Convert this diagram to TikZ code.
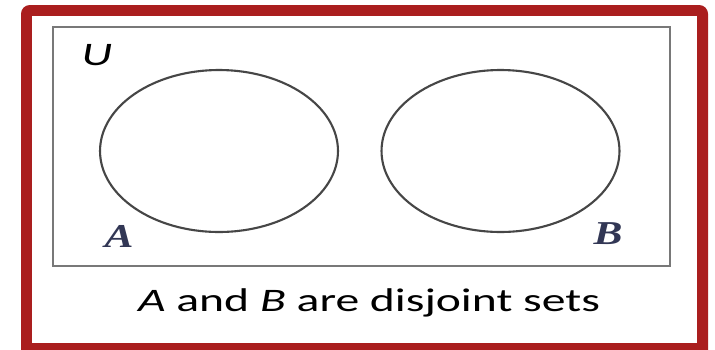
\documentclass[tikz,border=0pt]{standalone}
\usepackage{fontspec}
\usetikzlibrary{shapes.geometric}
\newfontfamily\captionfont{Carlito}
\newfontfamily\setlabelfont{Liberation Serif}
\definecolor{FrameRed}   {RGB}{170,  30,  30}
\definecolor{BoxGray}    {RGB}{120, 120, 120}
\definecolor{SetDark}    {RGB}{ 70,  70,  70}
\definecolor{LabelNavy}  {RGB}{ 50,  55,  85}
\tikzset{
  % universe rectangle
  universebox/.style={
    rectangle, draw=BoxGray, line width=1.2pt,
    minimum width=12.34cm, minimum height=4.78cm, inner sep=0pt
  },
  % set ellipse
  setshape/.style={
    ellipse, draw=SetDark, line width=1.2pt,
    minimum width=4.76cm, minimum height=3.24cm, inner sep=0pt
  },
  % set name inside the universe
  setname/.style={
    font=\setlabelfont\bfseries\itshape\fontsize{19}{22}\selectfont,
    text=LabelNavy, anchor=base, inner sep=0pt, xscale=1.3
  },
  % sans text (universe name, caption)
  sanstext/.style={
    font=\captionfont\fontsize{18.7}{22}\selectfont,
    text=black, anchor=base, inner sep=0pt, xscale=1.45
  }
}
\begin{document}
\begin{tikzpicture}[x=0.02cm, y=-0.02cm]

  % ── Page size ─────────────────────────────────────────────────────────
  \useasboundingbox (0,0) rectangle (715,349);
  \clip (0,0) rectangle (715,349);

  % ── Red frame (bottom edge runs off the page) ─────────────────────────
  \fill[FrameRed, rounded corners=5pt] (21,5) rectangle (708,370);
  \fill[white] (32,16) rectangle (697,343);

  % ── Universe and sets ─────────────────────────────────────────────────
  \node[universebox] (univ) at (361.5,146.5) {};
  \node[setshape] (setA) at (219,151) {};
  \node[setshape] (setB) at (500.5,151) {};

  % ── Labels ────────────────────────────────────────────────────────────
  \node[sanstext] (univ_lbl) at (97,65) {\itshape U};
  \node[setname] (setA_lbl) at (119,247) {A};
  \node[setname] (setB_lbl) at (608,244) {B};

  % ── Caption ───────────────────────────────────────────────────────────
  \node[sanstext] (caption) at (369,311)
        {\textit{A} and \textit{B} are disjoint sets};

\end{tikzpicture}
\end{document}
